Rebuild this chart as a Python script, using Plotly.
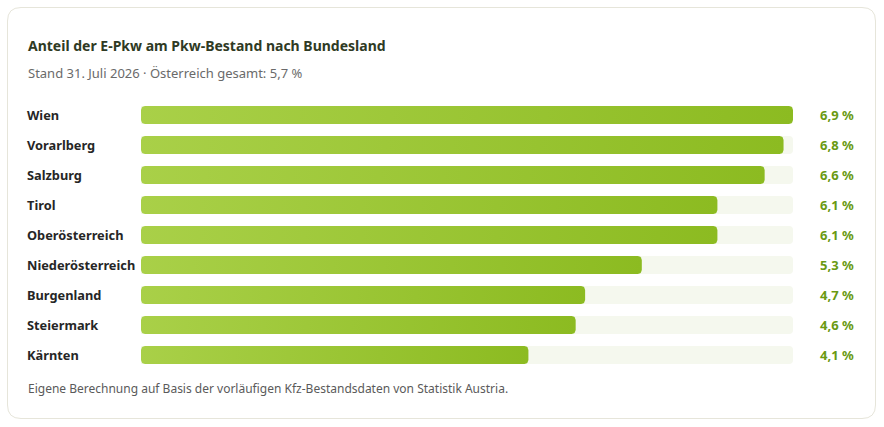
import numpy as np
import plotly.graph_objects as go

# data
laender = ["Wien", "Vorarlberg", "Salzburg", "Tirol", "Oberösterreich",
           "Niederösterreich", "Burgenland", "Steiermark", "Kärnten"]
anteil = [6.9, 6.8, 6.6, 6.1, 6.1, 5.3, 4.7, 4.6, 4.1]
wert_labels = ["6,9 %", "6,8 %", "6,6 %", "6,1 %", "6,1 %", "5,3 %", "4,7 %", "4,6 %", "4,1 %"]

title = "Anteil der E-Pkw am Pkw-Bestand nach Bundesland"
subtitle = "Stand 31. Juli 2026 · Österreich gesamt: 5,7 %"
footer = "Eigene Berechnung auf Basis der vorläufigen Kfz-Bestandsdaten von Statistik Austria."

W, H = 884, 427
FONT = "Noto Sans"
X0_PX, X1_PX = 141, 793      # bar track in pixels
Y0_PX, Y1_PX = 100, 370      # rows area in pixels
BAR_H = 0.6
RAD = 4                      # corner radius in px

xmax = max(anteil)
n = len(laender)
ux = xmax / (X1_PX - X0_PX)          # data units per px (x)
uy = n / (Y1_PX - Y0_PX)             # data units per px (y)


def rounded_bar(x_end, yc):
    rx, ry = RAD * ux, RAD * uy
    y_top, y_bot = yc - BAR_H / 2, yc + BAR_H / 2
    xs, ys = [], []
    corners = [
        (x_end - rx, y_top + ry, -np.pi / 2, 0),
        (x_end - rx, y_bot - ry, 0, np.pi / 2),
        (rx, y_bot - ry, np.pi / 2, np.pi),
        (rx, y_top + ry, np.pi, 1.5 * np.pi),
    ]
    for cx, cy, a0, a1 in corners:
        t = np.linspace(a0, a1, 8)
        xs += list(cx + rx * np.cos(t))
        ys += list(cy + ry * np.sin(t))
    xs.append(xs[0])
    ys.append(ys[0])
    return xs, ys


fig = go.Figure()

# background tracks
fig.add_trace(go.Bar(
    x=[xmax] * n, y=list(range(n)), orientation="h", width=BAR_H,
    marker=dict(color="#f5f8ee", line_width=0, cornerradius=RAD),
    hoverinfo="skip", showlegend=False,
))

# gradient bars
for i, v in enumerate(anteil):
    xs, ys = rounded_bar(v, i)
    fig.add_trace(go.Scatter(
        x=xs, y=ys, mode="lines", fill="toself",
        fillgradient=dict(type="horizontal",
                          colorscale=[[0, "#a9d048"], [1, "#8cbb21"]]),
        line=dict(width=0, color="rgba(0,0,0,0)"),
        hovertemplate=f"{laender[i]}: {wert_labels[i]}<extra></extra>",
        showlegend=False,
    ))

annotations = [
    dict(text=f"<b>{title}</b>", x=26 / W, y=1 - 45 / H, xanchor="left", yanchor="middle",
         font=dict(size=14, color="#2f3a24")),
    dict(text=subtitle, x=26 / W, y=1 - 73 / H, xanchor="left", yanchor="middle",
         font=dict(size=13, color="#6a6a6a")),
    dict(text=footer, x=26 / W, y=1 - 388 / H, xanchor="left", yanchor="middle",
         font=dict(size=12, color="#5a5a5a")),
]
for i, (name, lab) in enumerate(zip(laender, wert_labels)):
    annotations.append(dict(text=f"<b>{name}</b>", x=25 / W, xref="paper", y=i, yref="y",
                            xanchor="left", yanchor="middle",
                            font=dict(size=12.8, color="#262626")))
    annotations.append(dict(text=f"<b>{lab}</b>", x=856 / W, xref="paper", y=i, yref="y",
                            xanchor="right", yanchor="middle",
                            font=dict(size=13, color="#6a9a12")))
for a in annotations:
    a.setdefault("xref", "paper")
    a.setdefault("yref", "paper")
    a["showarrow"] = False

fig.update_layout(
    width=W, height=H,
    margin=dict(l=0, r=0, t=0, b=0),
    paper_bgcolor="white", plot_bgcolor="white",
    font=dict(family=FONT),
    xaxis=dict(domain=[X0_PX / W, X1_PX / W], range=[0, xmax], visible=False, fixedrange=True),
    yaxis=dict(domain=[1 - Y1_PX / H, 1 - Y0_PX / H], range=[n - 0.5, -0.5],
               visible=False, fixedrange=True),
    annotations=annotations,
    shapes=[dict(
        type="path", xref="paper", yref="paper",
        path=(f"M {21/W},{1-7.5/H} L {862/W},{1-7.5/H} "
              f"Q {875.5/W},{1-7.5/H} {875.5/W},{1-21/H} "
              f"L {875.5/W},{1-405/H} Q {875.5/W},{1-418.5/H} {862/W},{1-418.5/H} "
              f"L {21/W},{1-418.5/H} Q {7.5/W},{1-418.5/H} {7.5/W},{1-405/H} "
              f"L {7.5/W},{1-21/H} Q {7.5/W},{1-7.5/H} {21/W},{1-7.5/H} Z"),
        line=dict(color="#e6e5da", width=1), layer="below",
    )],
    bargap=0.4,
)

# page has a default 8px body margin; drop it so the figure fills the window
fig.write_html("out.html", config={"displayModeBar": False},
               post_script="document.body.style.margin='0';document.body.style.overflow='hidden';")
